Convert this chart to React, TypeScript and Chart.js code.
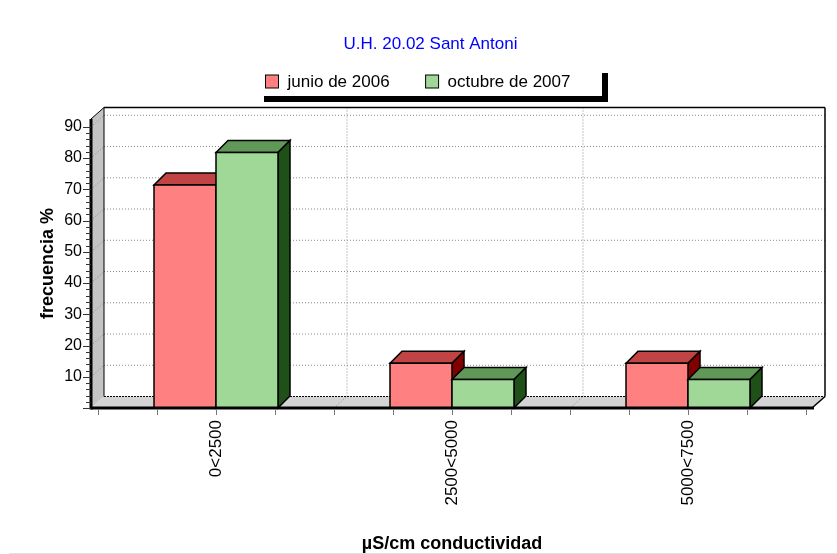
import React, { useEffect, useRef } from 'react';
import { Chart, registerables } from 'chart.js';

Chart.register(...registerables);

// ---- data ----
const TITLE = 'U.H. 20.02 Sant Antoni';
const X_TITLE = 'µS/cm conductividad';
const Y_TITLE = 'frecuencia %';
const categories = ['0<2500', '2500<5000', '5000<7500'];
const seriesLabels = ['junio de 2006', 'octubre de 2007'];
const junio2006 = [71.4, 14.3, 14.3];
const octubre2007 = [81.8, 9.1, 9.1];
const Y_MAX = 92.5;
const Y_STEP = 2;
const Y_LABEL_STEP = 10;

// ---- styles ----
const FONT = '"Liberation Sans", Arial, sans-serif';
const FRONT = ['#FF8080', '#A0D898'];
const TOP = ['#C04444', '#609858'];
const SIDE = ['#800000', '#1E5018'];
const WALL_DX = 13;
const WALL_DY = -11.5;
const INSET_L = 7;
const INSET_R = 6;
const BAR_DX = 12;
const BAR_DY = -12;

function poly(ctx: CanvasRenderingContext2D, pts: number[][], fill?: string, stroke?: string, lw = 1) {
  ctx.beginPath();
  ctx.moveTo(pts[0][0], pts[0][1]);
  for (let i = 1; i < pts.length; i++) ctx.lineTo(pts[i][0], pts[i][1]);
  ctx.closePath();
  if (fill) {
    ctx.fillStyle = fill;
    ctx.fill();
  }
  if (stroke) {
    ctx.strokeStyle = stroke;
    ctx.lineWidth = lw;
    ctx.stroke();
  }
}

function line(ctx: CanvasRenderingContext2D, x1: number, y1: number, x2: number, y2: number, color: string, lw = 1, dash: number[] = []) {
  ctx.beginPath();
  ctx.setLineDash(dash);
  ctx.strokeStyle = color;
  ctx.lineWidth = lw;
  ctx.moveTo(x1, y1);
  ctx.lineTo(x2, y2);
  ctx.stroke();
  ctx.setLineDash([]);
}

const pseudo3d = {
  id: 'pseudo3d',
  beforeDatasetsDraw(chart: any) {
    const { ctx, chartArea: a, scales } = chart;
    const ys = scales.y;
    const xs = scales.x;
    const L = a.left - INSET_L;
    const R = a.right + INSET_R;
    const T = a.top;
    const B = a.bottom;
    const dx = WALL_DX;
    const dy = WALL_DY;
    ctx.save();
    // back wall
    ctx.fillStyle = '#ffffff';
    ctx.fillRect(L + dx, T + dy, R - L, B - T);
    // left wall
    poly(ctx, [[L, T], [L + dx, T + dy], [L + dx, B + dy], [L, B]], '#C4C4C4');
    // floor
    poly(ctx, [[L, B], [L + dx, B + dy], [R + dx, B + dy], [R, B]], '#D4D4D4');
    // horizontal grid
    for (let v = Y_LABEL_STEP; v < Y_MAX; v += Y_LABEL_STEP) {
      const py = ys.getPixelForValue(v);
      line(ctx, L + dx, py + dy, R + dx, py + dy, '#8a8a8a', 1, [1, 2]);
      line(ctx, L, py, L + dx, py + dy, '#8a8a8a', 1, [1, 2]);
    }
    // vertical grid at category boundaries
    for (let i = 1; i < categories.length; i++) {
      const bx = (xs.getPixelForValue(i - 1) + xs.getPixelForValue(i)) / 2;
      line(ctx, bx + dx, T + dy, bx + dx, B + dy, '#8a8a8a', 1, [1, 2]);
      line(ctx, bx, B, bx + dx, B + dy, '#8a8a8a', 1, [1, 2]);
    }
    // borders
    line(ctx, L + dx, T + dy, R + dx, T + dy, '#000', 1.5);
    line(ctx, R + dx, T + dy, R + dx, B + dy, '#000', 1.5);
    line(ctx, L, T, L + dx, T + dy, '#000', 1);
    line(ctx, L + dx, T + dy, L + dx, B + dy, '#000', 1);
    line(ctx, L + dx, B + dy, R + dx, B + dy, '#000', 1.2, [2, 1]);
    line(ctx, R, B, R + dx, B + dy, '#000', 1.5);
    ctx.restore();
  },
  afterDatasetsDraw(chart: any) {
    const { ctx, chartArea: a, scales } = chart;
    const ys = scales.y;
    const L = a.left - INSET_L;
    const R = a.right + INSET_R;
    const T = a.top;
    const B = a.bottom;
    ctx.save();
    const metas = chart.data.datasets.map((_: any, d: number) => chart.getDatasetMeta(d));
    for (let i = 0; i < categories.length; i++) {
      for (let d = 0; d < metas.length; d++) {
        const el = metas[d].data[i];
        if (!el) continue;
        const p = el.getProps(['x', 'y', 'base', 'width'], true);
        const l = p.x - p.width / 2;
        const r = p.x + p.width / 2;
        const top = p.y;
        const base = p.base;
        // top face
        poly(ctx, [[l, top], [r, top], [r + BAR_DX, top + BAR_DY], [l + BAR_DX, top + BAR_DY]], TOP[d], '#000', 1.5);
        // side face
        poly(ctx, [[r, top], [r + BAR_DX, top + BAR_DY], [r + BAR_DX, base + BAR_DY], [r, base]], SIDE[d], '#000', 1.5);
        // front face
        poly(ctx, [[l, top], [r, top], [r, base], [l, base]], FRONT[d], '#000', 1.5);
      }
    }
    // front axes
    line(ctx, L, T, L, B + 1.5, '#000', 3);
    line(ctx, L, B, R + 2, B, '#000', 3);
    // y tick marks
    for (const t of ys.ticks) {
      if (Math.abs(t.value / Y_STEP - Math.round(t.value / Y_STEP)) > 1e-6) continue;
      const py = Math.round(ys.getPixelForValue(t.value)) + 0.5;
      const major = Math.abs(t.value % Y_LABEL_STEP) < 1e-6;
      line(ctx, L - (major ? 8 : 5), py, L, py, '#333', 1);
    }
    // x tick marks (quarters of each category)
    const n = categories.length * 4;
    for (let k = 0; k <= n; k++) {
      const px = Math.round(a.left + ((a.right - a.left) * k) / n) + 0.5;
      line(ctx, px, B + 2, px, B + 7, '#777', 1);
    }
    ctx.restore();
  },
  afterDraw(chart: any) {
    const { ctx } = chart;
    ctx.save();
    // title
    ctx.font = `17px ${FONT}`;
    ctx.fillStyle = '#0000FF';
    ctx.textAlign = 'center';
    ctx.textBaseline = 'middle';
    ctx.fillText(TITLE, 430.5, 44.5);
    // legend box with shadow
    const bx = 258, by = 67, bw = 344, bh = 29, sh = 6;
    ctx.fillStyle = '#000';
    ctx.fillRect(bx + sh, by + sh, bw, bh);
    ctx.fillStyle = '#fff';
    ctx.fillRect(bx, by, bw, bh);
    ctx.font = `17px ${FONT}`;
    ctx.textAlign = 'left';
    ctx.textBaseline = 'middle';
    let x = 265.5;
    const cy = 82;
    chart.data.datasets.forEach((ds: any, d: number) => {
      ctx.fillStyle = FRONT[d];
      ctx.fillRect(x, cy - 7, 13, 13);
      ctx.strokeStyle = '#000';
      ctx.lineWidth = 1;
      ctx.strokeRect(x, cy - 7, 13, 13);
      ctx.fillStyle = '#000';
      ctx.fillText(ds.label, x + 22, cy);
      x += 22 + ctx.measureText(ds.label).width + 36;
    });
    // bottom light line
    line(ctx, 9, 553.5, 837, 553.5, '#E0E0E0', 1);
    ctx.restore();
  },
};

export default function App() {
  const ref = useRef<HTMLCanvasElement | null>(null);
  useEffect(() => {
    if (!ref.current) return;
    const chart = new Chart(ref.current, {
      type: 'bar',
      data: {
        labels: categories,
        datasets: [
          { label: seriesLabels[0], data: junio2006, backgroundColor: FRONT[0], borderWidth: 0 },
          { label: seriesLabels[1], data: octubre2007, backgroundColor: FRONT[1], borderWidth: 0 },
        ],
      },
      options: {
        animation: false,
        responsive: false,
        devicePixelRatio: 1,
        layout: { padding: { top: 119, right: 31, left: 0, bottom: 0 } },
        datasets: { bar: { categoryPercentage: 0.5254, barPercentage: 1 } },
        plugins: {
          legend: { display: false },
          title: { display: false },
          tooltip: { enabled: false },
        },
        scales: {
          x: {
            grid: { display: false, drawTicks: false },
            border: { display: false },
            ticks: {
              color: '#000',
              font: { family: FONT, size: 17 },
              minRotation: 90,
              maxRotation: 90,
              padding: 12,
              autoSkip: false,
            },
            title: {
              display: true,
              text: X_TITLE,
              color: '#000',
              font: { family: FONT, size: 18, weight: 'bold' },
              padding: { top: 0, bottom: -1 },
            },
            afterFit: (s: any) => {
              s.height = 146;
            },
          },
          y: {
            min: 0,
            max: Y_MAX,
            grid: { display: false, drawTicks: false },
            border: { display: false },
            ticks: {
              stepSize: Y_STEP,
              autoSkip: false,
              color: '#000',
              font: { family: FONT, size: 16 },
              padding: 16,
              callback: (v: any) => {
                const n = Number(v);
                return n > 0 && Math.abs(n % Y_LABEL_STEP) < 1e-6 ? String(n) : '';
              },
            },
            title: {
              display: true,
              text: Y_TITLE,
              color: '#000',
              font: { family: FONT, size: 18, weight: 'bold' },
              padding: { top: 37, bottom: 0 },
            },
            afterFit: (s: any) => {
              s.width = 98;
            },
          },
        },
      },
      plugins: [pseudo3d],
    });
    return () => chart.destroy();
  }, []);
  return (
    <div style={{ position: 'fixed', left: 0, top: 0, width: 837, height: 554, background: '#fff' }}>
      <canvas ref={ref} width={837} height={554} style={{ display: 'block' }} />
    </div>
  );
}
